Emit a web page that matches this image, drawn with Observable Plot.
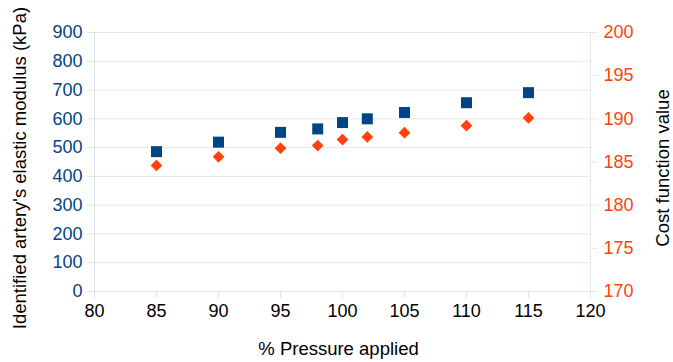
<!DOCTYPE html>
<html>
<head>
<meta charset="utf-8">
<script src="https://cdn.jsdelivr.net/npm/d3@7"></script>
<script src="https://cdn.jsdelivr.net/npm/@observablehq/plot@0.6"></script>
<style>
  html, body { margin: 0; padding: 0; background: #fff; }
  #chart svg { display: block; }
</style>
</head>
<body>
<div id="chart"></div>
<script>
// Data
const pressure = [85, 90, 95, 98, 100, 102, 105, 110, 115];
const modulus = [486, 519, 553, 565, 587, 600, 622, 656, 691];
const costValue = [184.6, 185.6, 186.6, 186.9, 187.6, 187.9, 188.4, 189.2, 190.1];

const xTicks = [80, 85, 90, 95, 100, 105, 110, 115, 120];
const leftTicks = [0, 100, 200, 300, 400, 500, 600, 700, 800, 900];
const rightTicks = [170, 175, 180, 185, 190, 195, 200];

const xLabel = "% Pressure applied";
const leftLabel = "Identified artery's elastic modulus (kPa)";
const rightLabel = "Cost function value";

const blue = "#004586";
const orange = "#ff420e";

// right axis [170,200] mapped onto left scale [0,900]
const rMin = 170, rMax = 200, lMax = 900;
const toLeft = v => (v - rMin) / (rMax - rMin) * lMax;
const fromLeft = v => rMin + v / lMax * (rMax - rMin);

const modData = pressure.map((p, i) => ({p, v: modulus[i]}));
const costData = pressure.map((p, i) => ({p, v: toLeft(costValue[i])}));

const font = "'Liberation Sans', Arial, sans-serif";

const chart = Plot.plot({
  width: 673,
  height: 362,
  marginLeft: 94,
  marginRight: 83,
  marginTop: 32,
  marginBottom: 71,
  style: {fontFamily: font, fontSize: "18px", background: "#fff"},
  x: {domain: [80, 120]},
  y: {domain: [0, 900]},
  marks: [
    Plot.gridY(leftTicks, {stroke: "#e8e8e8", strokeOpacity: 1}),
    Plot.ruleY([0], {stroke: "#e3e3e3"}),
    Plot.ruleX([80], {stroke: "#dde2e6"}),
    Plot.ruleX([120], {stroke: "#eee4e1"}),
    Plot.axisY(leftTicks, {anchor: "left", tickSize: 7, tickPadding: 5, stroke: "#dde2e6", fill: blue, label: null, fontSize: 18}),
    Plot.axisY(rightTicks.map(toLeft), {anchor: "right", tickSize: 7, tickPadding: 6, stroke: "#eee4e1", fill: orange, label: null, fontSize: 18, tickFormat: d => String(Math.round(fromLeft(d)))}),
    Plot.axisX(xTicks, {tickSize: 7, tickPadding: 6, stroke: "#e3e3e3", fill: "#000", label: null, fontSize: 18}),
    Plot.dot(modData, {x: "p", y: "v", symbol: "square", r: 6.2, fill: blue, stroke: "none"}),
    Plot.dot(costData, {x: "p", y: "v", symbol: "diamond2", r: 5.3, fill: orange, stroke: "none"}),
    Plot.text([xLabel], {frameAnchor: "bottom", textAnchor: "middle", dx: -4, dy: 58, fontSize: 18.5, fill: "#000", lineAnchor: "middle"}),
    Plot.text([leftLabel], {frameAnchor: "left", textAnchor: "middle", dx: -74, dy: 6, rotate: -90, fontSize: 18.5, fill: "#000", lineAnchor: "middle"}),
    Plot.text([rightLabel], {frameAnchor: "right", textAnchor: "middle", dx: 73, dy: 6, rotate: -90, fontSize: 18.5, fill: "#000", lineAnchor: "middle"})
  ]
});

document.getElementById("chart").appendChild(chart);
</script>
</body>
</html>
